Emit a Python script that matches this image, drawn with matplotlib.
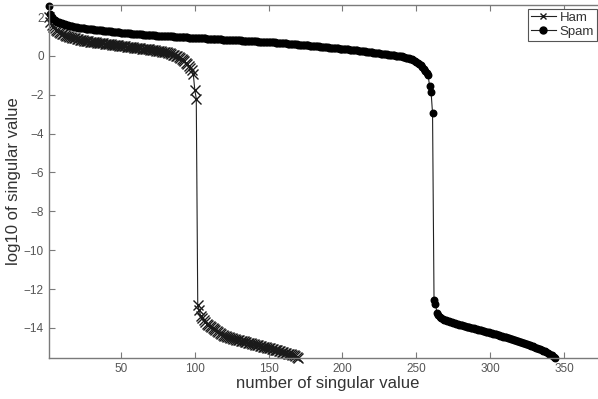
import numpy as np
import matplotlib
matplotlib.use("Agg")
import matplotlib.pyplot as plt

plt.rcParams['font.family'] = ['Liberation Sans', 'DejaVu Sans']

# log10 of singular values, ordered largest to smallest
ham = [
    2.00, 1.75, 1.60, 1.50, 1.42, 1.35, 1.29, 1.24, 1.19, 1.15,
    1.11, 1.08, 1.05, 1.02, 0.99, 0.96, 0.94, 0.92, 0.90, 0.88,
    0.86, 0.84, 0.82, 0.81, 0.79, 0.78, 0.76, 0.75, 0.74, 0.72,
    0.71, 0.70, 0.69, 0.68, 0.67, 0.66, 0.65, 0.64, 0.63, 0.62,
    0.61, 0.60, 0.59, 0.58, 0.57, 0.56, 0.55, 0.54, 0.53, 0.52,
    0.51, 0.50, 0.49, 0.48, 0.47, 0.46, 0.45, 0.44, 0.43, 0.42,
    0.41, 0.40, 0.39, 0.38, 0.37, 0.36, 0.35, 0.34, 0.33, 0.32,
    0.31, 0.30, 0.29, 0.27, 0.26, 0.25, 0.24, 0.22, 0.21, 0.20,
    0.18, 0.15, 0.13, 0.10, 0.07, 0.04, 0.01, -0.03, -0.07, -0.12,
    -0.17, -0.22, -0.28, -0.35, -0.42, -0.50, -0.60, -0.72, -0.95, -1.75,
    -2.20, -12.80, -13.10, -13.40, -13.50, -13.60, -13.70, -13.78, -13.85, -13.90,
    -13.95, -14.00, -14.05, -14.10, -14.15, -14.20, -14.25, -14.30, -14.35, -14.40,
    -14.42, -14.45, -14.47, -14.50, -14.52, -14.55, -14.57, -14.60, -14.62, -14.64,
    -14.66, -14.68, -14.70, -14.72, -14.74, -14.76, -14.78, -14.80, -14.82, -14.84,
    -14.86, -14.88, -14.90, -14.92, -14.94, -14.96, -14.98, -15.00, -15.02, -15.04,
    -15.06, -15.08, -15.10, -15.12, -15.14, -15.16, -15.18, -15.20, -15.22, -15.25,
    -15.27, -15.30, -15.32, -15.34, -15.36, -15.39, -15.42, -15.45, -15.50, -15.55,
]

spam = [
    2.55, 2.15, 2.00, 1.92, 1.85, 1.80, 1.76, 1.72, 1.69, 1.67,
    1.65, 1.63, 1.60, 1.58, 1.56, 1.54, 1.52, 1.50, 1.49, 1.47,
    1.46, 1.45, 1.44, 1.43, 1.42, 1.41, 1.40, 1.39, 1.38, 1.37,
    1.36, 1.35, 1.34, 1.33, 1.33, 1.32, 1.31, 1.30, 1.29, 1.28,
    1.27, 1.26, 1.26, 1.25, 1.24, 1.23, 1.22, 1.21, 1.21, 1.20,
    1.19, 1.18, 1.18, 1.17, 1.16, 1.16, 1.15, 1.15, 1.14, 1.13,
    1.13, 1.12, 1.11, 1.11, 1.10, 1.10, 1.09, 1.08, 1.08, 1.07,
    1.07, 1.06, 1.06, 1.05, 1.05, 1.04, 1.04, 1.03, 1.03, 1.02,
    1.02, 1.01, 1.01, 1.00, 1.00, 0.99, 0.99, 0.98, 0.98, 0.97,
    0.97, 0.96, 0.96, 0.95, 0.95, 0.94, 0.94, 0.94, 0.93, 0.93,
    0.92, 0.92, 0.91, 0.91, 0.90, 0.90, 0.90, 0.89, 0.89, 0.88,
    0.88, 0.87, 0.87, 0.86, 0.86, 0.86, 0.85, 0.85, 0.84, 0.84,
    0.84, 0.83, 0.83, 0.82, 0.82, 0.82, 0.81, 0.81, 0.80, 0.80,
    0.80, 0.79, 0.79, 0.78, 0.78, 0.77, 0.77, 0.77, 0.76, 0.76,
    0.75, 0.75, 0.74, 0.74, 0.73, 0.73, 0.72, 0.72, 0.71, 0.71,
    0.70, 0.70, 0.69, 0.69, 0.68, 0.68, 0.67, 0.66, 0.66, 0.65,
    0.64, 0.64, 0.63, 0.62, 0.62, 0.61, 0.60, 0.60, 0.59, 0.58,
    0.58, 0.57, 0.56, 0.56, 0.55, 0.54, 0.54, 0.53, 0.52, 0.52,
    0.51, 0.50, 0.49, 0.49, 0.48, 0.47, 0.46, 0.46, 0.45, 0.44,
    0.43, 0.43, 0.42, 0.41, 0.40, 0.40, 0.39, 0.38, 0.37, 0.36,
    0.36, 0.35, 0.34, 0.33, 0.32, 0.31, 0.30, 0.30, 0.29, 0.28,
    0.27, 0.26, 0.25, 0.24, 0.23, 0.22, 0.21, 0.20, 0.19, 0.18,
    0.17, 0.16, 0.15, 0.14, 0.13, 0.12, 0.11, 0.10, 0.09, 0.08,
    0.07, 0.06, 0.05, 0.04, 0.03, 0.02, 0.01, 0.00, -0.02, -0.03,
    -0.05, -0.07, -0.09, -0.11, -0.13, -0.15, -0.18, -0.21, -0.25, -0.29,
    -0.34, -0.40, -0.47, -0.56, -0.66, -0.77, -0.88, -1.00, -1.55, -1.85,
    -2.95, -12.55, -12.75, -13.25, -13.35, -13.42, -13.48, -13.53, -13.57, -13.60,
    -13.63, -13.66, -13.69, -13.71, -13.74, -13.76, -13.78, -13.81, -13.83, -13.85,
    -13.87, -13.89, -13.91, -13.93, -13.95, -13.97, -13.99, -14.01, -14.03, -14.05,
    -14.07, -14.09, -14.11, -14.13, -14.15, -14.17, -14.19, -14.21, -14.23, -14.25,
    -14.27, -14.29, -14.32, -14.34, -14.36, -14.38, -14.40, -14.42, -14.45, -14.47,
    -14.49, -14.51, -14.54, -14.56, -14.58, -14.61, -14.63, -14.66, -14.68, -14.71,
    -14.73, -14.76, -14.78, -14.81, -14.84, -14.86, -14.89, -14.92, -14.95, -14.98,
    -15.01, -15.04, -15.07, -15.10, -15.13, -15.17, -15.20, -15.24, -15.28, -15.32,
    -15.37, -15.42, -15.48, -15.55,
]

series_names = ["Ham", "Spam"]
x_ticks = [50, 100, 150, 200, 250, 300, 350]
y_ticks = [-14, -12, -10, -8, -6, -4, -2, 0, 2]

W, H = 598, 399
fig = plt.figure(figsize=(W / 100, H / 100), dpi=100)
# axes box runs a little past the right edge of the canvas
ax = fig.add_axes([48.6 / W, 1 - 358 / H, (606 - 48.6) / W, (358 - 5) / H])

ham_idx = np.arange(1, len(ham) + 1)
spam_idx = np.arange(1, len(spam) + 1)

ax.plot(ham_idx, ham, color='#222222', lw=0.8, marker='x', ms=7,
        mew=1.0, mec='#1a1a1a', label=series_names[0], clip_on=False)
ax.plot(spam_idx, spam, color='#222222', lw=0.8, marker='o', ms=4.7,
        mfc='black', mec='black', label=series_names[1], clip_on=False)

all_vals = ham + spam
ax.set_xlim(1, 1 + (606 - 48.6) / 1.4767)
ax.set_ylim(min(all_vals), 2.62)
ax.set_xticks(x_ticks)
ax.set_yticks(y_ticks)

axis_gray = '#7a7a7a'
text_gray = '#555555'
for s in ax.spines.values():
    s.set_color(axis_gray)
    s.set_linewidth(1.0)
ax.spines['right'].set_visible(False)
ax.tick_params(direction='in', length=4, width=0.8, color=axis_gray,
               labelcolor=text_gray, labelsize=8.5, top=True, right=False)

ax.set_xlabel("number of singular value", fontsize=12, color='#333333', labelpad=1)
ax.set_ylabel("log10 of singular value", fontsize=12, color='#333333', labelpad=2)

leg = ax.legend(loc='upper left', bbox_to_anchor=(528 / W, 1 - 9 / H),
                bbox_transform=fig.transFigure, fontsize=9.5, frameon=True,
                fancybox=False, borderpad=0.2, handlelength=1.9,
                handletextpad=0.3, labelspacing=0.15, borderaxespad=0)
leg.get_frame().set_edgecolor('#555555')
leg.get_frame().set_linewidth(0.8)
leg.get_frame().set_alpha(1.0)
for t in leg.get_texts():
    t.set_color('#333333')
for h in leg.legend_handles:
    h.set_markersize(5)

fig.savefig("out.png", dpi=100)
